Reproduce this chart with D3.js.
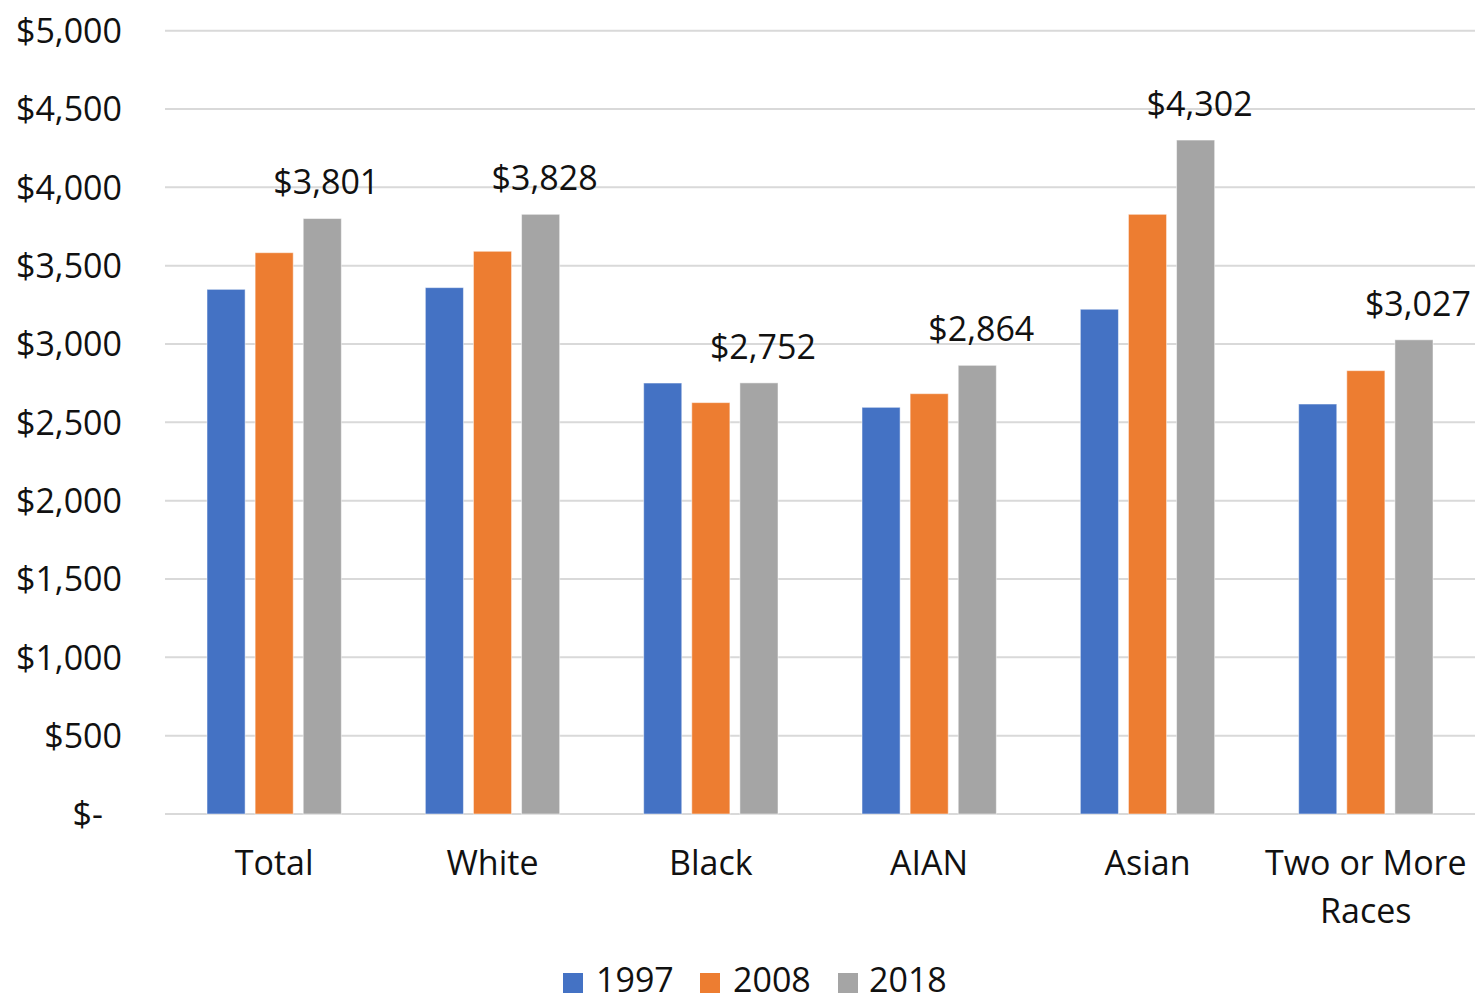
<!DOCTYPE html>
<html>
<head>
<meta charset="utf-8">
<script src="https://cdn.jsdelivr.net/npm/d3@7"></script>
<style>
  html, body { margin: 0; padding: 0; background: #fff; }
  svg text { font-family: "Open Sans", "Noto Sans", sans-serif; fill: #111; }
</style>
</head>
<body>
<svg id="chart" width="1476" height="1002"></svg>
<script>
// Average monthly amount by race, three survey years
const categories = ["Total", "White", "Black", "AIAN", "Asian", "Two or More Races"];
const series = ["1997", "2008", "2018"];
const values1997 = [3349, 3360, 2751, 2596, 3222, 2617];
const values2008 = [3583, 3592, 2626, 2683, 3828, 2830];
const values2018 = [3801, 3828, 2752, 2864, 4302, 3027];
const yTicks = [0, 500, 1000, 1500, 2000, 2500, 3000, 3500, 4000, 4500, 5000];
const colors = ["#4472c4", "#ed7d31", "#a5a5a5"];

const seriesValues = [values1997, values2008, values2018];
const rows = categories.map((c, i) => ({
  category: c,
  bars: series.map((s, j) => ({ series: s, value: seriesValues[j][i], idx: j }))
}));

const svg = d3.select("#chart");
const plot = { left: 165, right: 1475, top: 30.7, bottom: 814 };
const fontSize = 34;

const x0 = d3.scaleBand().domain(categories).range([plot.left, plot.right]).padding(0);
const groupPad = 42;
const x1 = d3.scaleBand().domain(series)
  .range([groupPad, x0.bandwidth() - groupPad])
  .paddingInner(0.208).paddingOuter(0);
const y = d3.scaleLinear().domain([0, 5000]).range([plot.bottom, plot.top]);

const money = d3.format(",");
const fmt = v => v === 0 ? "$-" : "$" + money(v);

// Gridlines
svg.append("g")
  .selectAll("line")
  .data(yTicks)
  .join("line")
  .attr("x1", plot.left).attr("x2", plot.right)
  .attr("y1", d => y(d)).attr("y2", d => y(d))
  .attr("stroke", "#d9d9d9").attr("stroke-width", 2);

// Y axis labels
const yAxis = d3.axisLeft(y).tickValues(yTicks).tickFormat(fmt).tickSize(0).tickPadding(0);
const yg = svg.append("g").attr("transform", "translate(122,0)").call(yAxis);
yg.select(".domain").remove();
yg.selectAll("text")
  .attr("font-size", fontSize)
  .attr("dy", "0.35em")
  .attr("x", d => d === 0 ? -19 : 0)
  .style("font-family", "'Open Sans', sans-serif")
  .attr("fill", "#111");

// Bars
const groups = svg.append("g")
  .selectAll("g")
  .data(rows)
  .join("g")
  .attr("transform", d => `translate(${x0(d.category)},0)`);

groups.selectAll("rect")
  .data(d => d.bars)
  .join("rect")
  .attr("x", d => x1(d.series))
  .attr("width", x1.bandwidth())
  .attr("y", d => y(d.value))
  .attr("height", d => y(0) - y(d.value))
  .attr("fill", d => colors[d.idx])
  .attr("stroke", "#ffffff")
  .attr("stroke-opacity", 0.5)
  .attr("stroke-width", 1);

// Value labels on the latest year
groups.append("text")
  .attr("x", d => x1("2018") + x1.bandwidth() / 2 + 4)
  .attr("y", d => y(d.bars[2].value) - 36)
  .attr("dy", "0.35em")
  .attr("text-anchor", "middle")
  .attr("font-size", fontSize)
  .text(d => fmt(d.bars[2].value));

// Category labels (wrapped)
const xg = svg.append("g");
rows.forEach(r => {
  const cx = x0(r.category) + x0.bandwidth() / 2;
  const lines = r.category === "Two or More Races" ? ["Two or More", "Races"] : [r.category];
  const t = xg.append("text")
    .attr("text-anchor", "middle")
    .attr("font-size", fontSize);
  lines.forEach((ln, i) => {
    t.append("tspan").attr("x", cx).attr("y", 875 + i * 48).text(ln);
  });
});

// Legend
const legendItems = [
  { label: "1997", sx: 563, tx: 596 },
  { label: "2008", sx: 700, tx: 733 },
  { label: "2018", sx: 838, tx: 869 }
];
const lg = svg.append("g");
legendItems.forEach((d, i) => {
  lg.append("rect").attr("x", d.sx).attr("y", 973).attr("width", 20).attr("height", 20)
    .attr("fill", colors[i]);
  lg.append("text").attr("x", d.tx).attr("y", 992).attr("font-size", fontSize).text(d.label);
});
</script>
</body>
</html>
